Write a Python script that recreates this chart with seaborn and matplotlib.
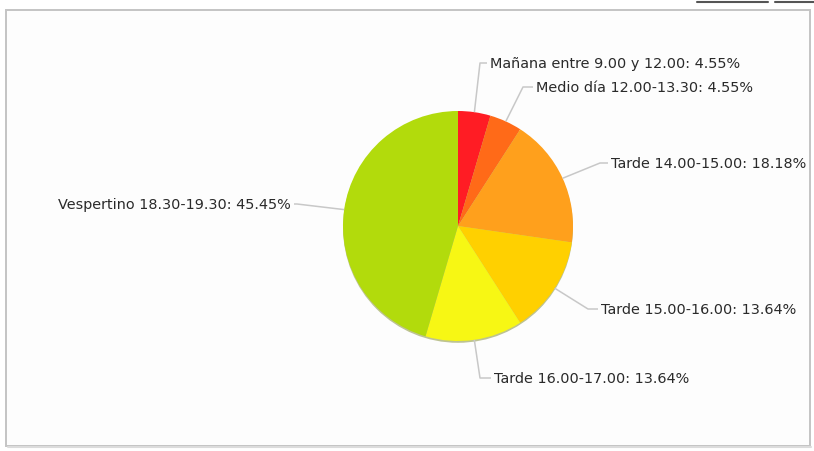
"""
Pie chart: franjas horarias preferidas.
"""

import numpy as np
import matplotlib
matplotlib.use("Agg")
import matplotlib.pyplot as plt
from matplotlib.patches import FancyBboxPatch
import seaborn as sns

# data
categories = [
    "Mañana entre 9.00 y 12.00",
    "Medio día 12.00-13.30",
    "Tarde 14.00-15.00",
    "Tarde 15.00-16.00",
    "Tarde 16.00-17.00",
    "Vespertino 18.30-19.30",
]
shares = [4.55, 4.55, 18.18, 13.64, 13.64, 45.45]
slice_colors = ["#ff1c24", "#ff6a18", "#ffa01c", "#ffd000", "#f7f714", "#b2db0c"]

sns.set_theme(style="white")
plt.rcParams["font.family"] = ["DejaVu Sans"]

W, H = 814, 451
fig = plt.figure(figsize=(W / 100, H / 100), dpi=100)
ax = fig.add_axes([0, 0, 1, 1])
ax.set_xlim(0, W)
ax.set_ylim(H, 0)
ax.set_aspect("equal")
ax.axis("off")

# card frame
frame = FancyBboxPatch((6, 10), 804, 436, boxstyle="square,pad=0",
                       facecolor="#fdfdfd", edgecolor="#c4c4c4", lw=1.4, zorder=0)
ax.add_patch(frame)
ax.plot([8, 811], [447, 447], color="#dcdcdc", lw=1.5, zorder=0)
# top-right toolbar remnants
ax.plot([697, 768], [1.5, 1.5], color="#555555", lw=1.5, zorder=0)
ax.plot([775, 814], [1.5, 1.5], color="#555555", lw=1.5, zorder=0)

cx, cy, r = 458, 226, 115

# y axis is inverted, so counterclock=True draws clockwise on screen;
# startangle -90 puts the first slice at 12 o'clock
wedges, _ = ax.pie(shares, colors=slice_colors, startangle=-90, counterclock=True,
                   center=(cx, cy), radius=r, frame=True,
                   wedgeprops=dict(linewidth=0))
for w in wedges:
    w.set_zorder(3)

# soft rim shadow at the bottom
rim = plt.Circle((cx, cy + 1.8), r, facecolor="#6f7d10", edgecolor="none", alpha=0.45, zorder=2)
ax.add_patch(rim)

ax.set_xlim(0, W)
ax.set_ylim(H, 0)
ax.axis("off")

# label layout: (elbow x, elbow y, text x, ha) ; anchor taken on the wedge rim
label_layout = [
    (480, 63, 490, "left"),
    (523, 87, 536, "left"),
    (600, 163, 611, "left"),
    (588, 309, 601, "left"),
    (480, 378, 494, "left"),
    (297, 204, 291, "right"),
]

for w, lab, val, (ex, ey, tx, ha) in zip(wedges, categories, shares, label_layout):
    mid = np.deg2rad((w.theta1 + w.theta2) / 2)
    axp = cx + r * np.cos(mid)
    ayp = cy + r * np.sin(mid)
    hx = tx - 3 if ha == "left" else tx + 3
    ax.plot([axp, ex, hx], [ayp, ey, ey], color="#c8c8c8", lw=1.1, zorder=4,
            solid_capstyle="butt")
    ax.text(tx, ey + 1, f"{lab}: {val:.2f}%", ha=ha, va="center",
            fontsize=10.4, color="#2a2a2a", zorder=5)

fig.savefig("out.png", dpi=100)
